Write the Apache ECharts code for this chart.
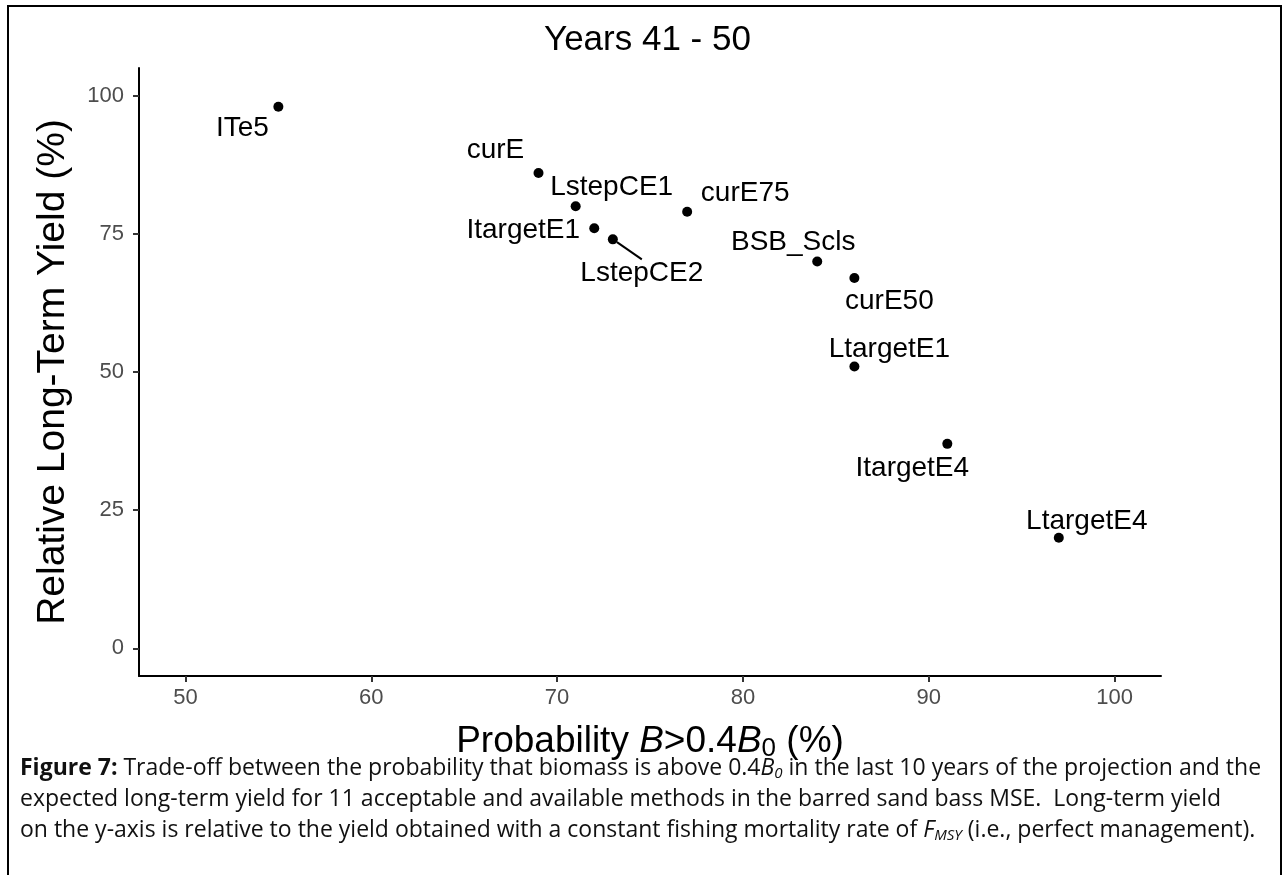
<!DOCTYPE html>
<html>
<head>
<meta charset="utf-8">
<script src="https://cdn.jsdelivr.net/npm/echarts@6/dist/echarts.min.js"></script>
<style>
  html, body { margin: 0; padding: 0; background: #fff; }
  #main { width: 1286px; height: 875px; }
</style>
</head>
<body>
<div id="main"></div>
<script>
// methods (labels), probability B > 0.4B0 (%), relative long-term yield (%)
const methods = ['ITe5', 'curE', 'LstepCE1', 'curE75', 'ItargetE1', 'LstepCE2',
    'BSB_Scls', 'curE50', 'LtargetE1', 'ItargetE4', 'LtargetE4'];
const probB = [55, 69, 71, 77, 72, 73, 84, 86, 86, 91, 97];
const ltYield = [98, 86, 80, 79, 76, 74, 70, 67, 51, 37, 20];
const xTicks = [50, 60, 70, 80, 90, 100];
const yTicks = [0, 25, 50, 75, 100];

// label nudges (px from the point), like ggrepel would place them
const labelNudge = [
    [-36, 22], [-43, -23], [36, -19], [58, -18], [-71, 2], [29, 34],
    [-24, -19], [35, 23], [35, -17], [-35, 24], [28, -17]
];

const chart = echarts.init(document.getElementById('main'));

const fontMain = '"Liberation Sans", Arial, sans-serif';
const fontCap = '"Open Sans", Lato, sans-serif';

const points = methods.map((m, i) => ({
    name: m,
    value: [probB[i], ltYield[i]],
    labelLine: { show: m === 'LstepCE2' }
}));

const capBase = { fontSize: 23, fontFamily: fontCap, fill: '#111', lineHeight: 27 };
const capRich = {
    b: { fontWeight: 'bold', fontSize: 23, fontFamily: fontCap, color: '#111' },
    i: { fontStyle: 'italic', fontSize: 23, fontFamily: fontCap, color: '#111' },
    sub: { fontStyle: 'italic', fontSize: 15, fontFamily: fontCap, color: '#111', padding: [10, 0, 0, 0] }
};

const option = {
    backgroundColor: '#fff',
    animation: false,
    title: {
        text: 'Years 41 - 50',
        left: 539,
        top: 18,
        textStyle: { fontFamily: fontMain, fontSize: 35, fontWeight: 'normal', color: '#000' }
    },
    grid: { left: 139, top: 68, right: 125, bottom: 199, containLabel: false },
    xAxis: {
        type: 'value',
        min: 47.5,
        max: 102.5,
        name: '{t|Probability }{i|B}{t|>0.4}{i|B}{s|0}{t| (%)}',
        nameLocation: 'middle',
        nameGap: 46,
        nameTextStyle: {
            rich: {
                t: { fontFamily: fontMain, fontSize: 37, color: '#000' },
                i: { fontFamily: fontMain, fontSize: 37, fontStyle: 'italic', color: '#000' },
                s: { fontFamily: fontMain, fontSize: 26, color: '#000', padding: [14, 0, 0, 0] }
            }
        },
        axisLine: { onZero: false, lineStyle: { color: '#000', width: 2 } },
        axisTick: { show: true, length: 6, lineStyle: { color: '#333', width: 2 }, customValues: xTicks },
        axisLabel: {
            fontFamily: fontMain, fontSize: 22, color: '#4d4d4d', margin: 11,
            customValues: xTicks
        },
        splitLine: { show: false }
    },
    yAxis: {
        type: 'value',
        min: -5,
        max: 105,
        name: 'Relative Long-Term Yield (%)',
        nameLocation: 'middle',
        nameGap: 66,
        nameTextStyle: { fontFamily: fontMain, fontSize: 39, color: '#000' },
        axisLine: { onZero: false, lineStyle: { color: '#000', width: 2 } },
        axisTick: { show: true, length: 6, lineStyle: { color: '#333', width: 2 }, customValues: yTicks },
        axisLabel: {
            fontFamily: fontMain, fontSize: 22, color: '#4d4d4d', margin: 15,
            customValues: yTicks
        },
        splitLine: { show: false }
    },
    series: [{
        type: 'scatter',
        symbolSize: 10,
        itemStyle: { color: '#000', opacity: 1 },
        data: points,
        label: {
            show: true,
            position: 'inside',
            formatter: p => p.name,
            fontFamily: fontMain,
            fontSize: 28,
            color: '#000',
            textBorderWidth: 0
        },
        labelLine: { show: false, lineStyle: { color: '#000', width: 2, opacity: 1 } },
        labelLayout: p => ({ dx: labelNudge[p.dataIndex][0], dy: labelNudge[p.dataIndex][1] })
    }],
    graphic: [
        {
            type: 'rect',
            shape: { x: 8, y: 6, width: 1273, height: 880 },
            style: { fill: 'none', stroke: '#000', lineWidth: 2 },
            silent: true
        },
        {
            type: 'text', left: 20, top: 755,
            style: Object.assign({}, capBase, {
                text: '{b|Figure 7:} Trade-off between the probability that biomass is above 0.4{i|B}{sub|0} in the last 10 years of the projection and the',
                rich: capRich
            })
        },
        {
            type: 'text', left: 20, top: 786,
            style: Object.assign({}, capBase, {
                text: 'expected long-term yield for 11 acceptable and available methods in the barred sand bass MSE.  Long-term yield',
                rich: capRich
            })
        },
        {
            type: 'text', left: 20, top: 817,
            style: Object.assign({}, capBase, {
                text: 'on the y-axis is relative to the yield obtained with a constant fishing mortality rate of {i|F}{sub|MSY} (i.e., perfect management).',
                rich: capRich
            })
        }
    ]
};

chart.setOption(option);
</script>
</body>
</html>
